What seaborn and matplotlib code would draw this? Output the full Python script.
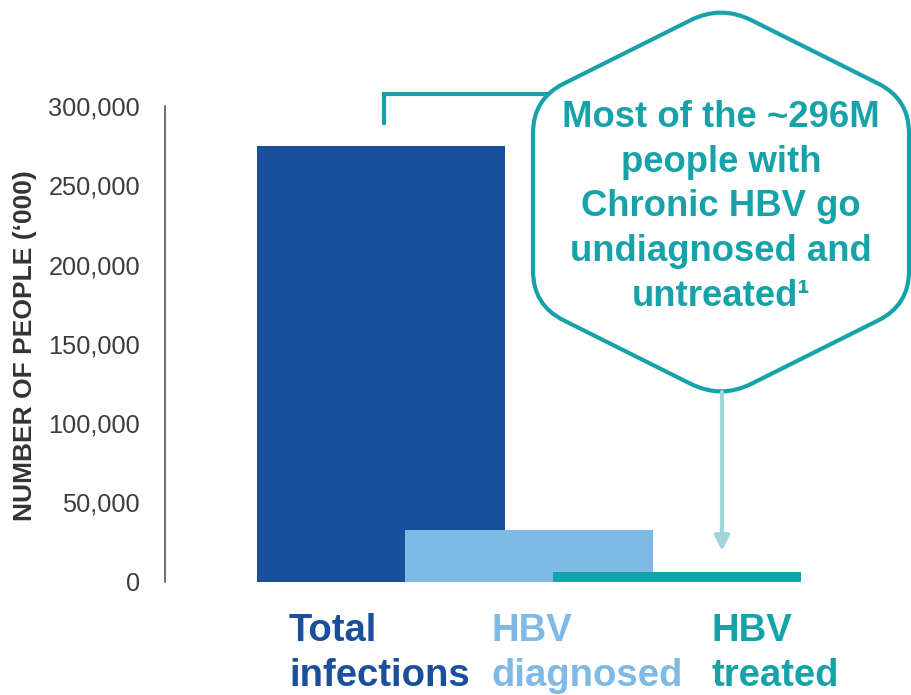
import numpy as np
import matplotlib
matplotlib.use("Agg")
import matplotlib.pyplot as plt
from matplotlib.path import Path
from matplotlib.patches import PathPatch
import seaborn as sns

# Global hepatitis B cascade (thousands of people)
categories = ["Total\ninfections", "HBV\ndiagnosed", "HBV\ntreated"]
values = [275000, 32500, 6000]
bar_colors = ["#1a4f9b", "#7fb9e6", "#15a3aa"]
y_ticks = [0, 50000, 100000, 150000, 200000, 250000, 300000]
y_tick_labels = ["0", "50,000", "100,000", "150,000", "200,000", "250,000", "300,000"]
y_title = "NUMBER OF PEOPLE (\u2018000)"
callout_text = "Most of the ~296M\npeople with\nChronic HBV go\nundiagnosed and\nuntreated\u00b9"

TEAL = "#17a2aa"
ARROW = "#9fd6db"
FONT = ["Liberation Sans", "DejaVu Sans"]

sns.set_theme(style="white")
plt.rcParams["font.family"] = FONT

W, H = 911, 695
fig = plt.figure(figsize=(W / 100, H / 100), dpi=100)

# main axes: zero line at y=581.5 px, 300,000 at y=106 px, spine at x=165 px
x0_px, y0_px, ytop_px = 165, 581.5, 106
ax = fig.add_axes([x0_px / W, (H - y0_px) / H, (W - x0_px) / W, (y0_px - ytop_px) / H])

sns.barplot(x=categories, y=values, hue=categories, palette=bar_colors,
            order=categories, hue_order=categories, width=1.669,
            saturation=1, errorbar=None, legend=False, linewidth=0, ax=ax)

# category spacing of 148 px, first category centred at x=381 px
unit = 148.0
ax.set_xlim((x0_px - 381) / unit, (W - 381) / unit)
ax.set_ylim(0, 300000)
ax.set_yticks(y_ticks)
ax.set_yticklabels(y_tick_labels)
ax.tick_params(axis="y", length=0, pad=18, labelsize=18.3, labelcolor="#3d3d3d")
ax.set_xticks([])
ax.set_xlabel("")
for s in ["top", "right", "bottom"]:
    ax.spines[s].set_visible(False)
ax.spines["left"].set_color("#555555")
ax.spines["left"].set_linewidth(1.2)
ax.set_facecolor("none")

ax.set_ylabel(y_title, fontsize=19, fontweight="bold", color="#333333", va="center")
ax.yaxis.set_label_coords((25 - x0_px) / (W - x0_px), 0.497)

# overlay in pixel coordinates for the callout and category labels
ov = fig.add_axes([0, 0, 1, 1], zorder=5)
ov.set_xlim(0, W)
ov.set_ylim(H, 0)
ov.axis("off")
ov.patch.set_alpha(0)

# category labels under the bars (baseline of the second line)
label_left = [289, 491, 711]
for txt, col, lx in zip(categories, bar_colors, label_left):
    ov.text(lx, 686, txt, color=col, fontsize=27.5, fontweight="bold",
            ha="left", va="baseline", linespacing=1.32)

# bracket from the tallest bar to the callout
ov.plot([384, 384, 600], [125, 94, 94], color=TEAL, lw=3.0,
        solid_joinstyle="miter", solid_capstyle="butt", zorder=1)

# rounded hexagon callout
cx, cy = 721, 202
hw, rise, half_side = 188, 94, 103
verts = np.array([
    [cx, cy - half_side - rise],
    [cx + hw, cy - half_side],
    [cx + hw, cy + half_side],
    [cx, cy + half_side + rise],
    [cx - hw, cy + half_side],
    [cx - hw, cy - half_side],
])
d = 34
n = len(verts)
pts, codes = [], []
for i in range(n + 1):
    v = verts[i % n]
    prev_v = verts[(i - 1) % n]
    next_v = verts[(i + 1) % n]
    p_in = v + d * (prev_v - v) / np.linalg.norm(prev_v - v)
    p_out = v + d * (next_v - v) / np.linalg.norm(next_v - v)
    if i == 0:
        pts.append(p_out)
        codes.append(Path.MOVETO)
    else:
        pts += [p_in, v, p_out]
        codes += [Path.LINETO, Path.CURVE3, Path.CURVE3]
pts.append(pts[0])
codes.append(Path.CLOSEPOLY)
hexagon = PathPatch(Path(np.array(pts), codes), facecolor="white",
                    edgecolor=TEAL, lw=3.0, zorder=2)
ov.add_patch(hexagon)

ov.text(cx, 207, callout_text, color=TEAL, fontsize=26.3, fontweight="bold",
        ha="center", va="center", multialignment="center", linespacing=1.37, zorder=3)

# arrow down to the treated bar
ov.annotate("", xy=(722, 551), xytext=(722, 392),
            arrowprops=dict(arrowstyle="-|>", color=ARROW, lw=3.0,
                            mutation_scale=22, shrinkA=0, shrinkB=0),
            zorder=3)

fig.savefig("out.png", dpi=100, facecolor="white")
